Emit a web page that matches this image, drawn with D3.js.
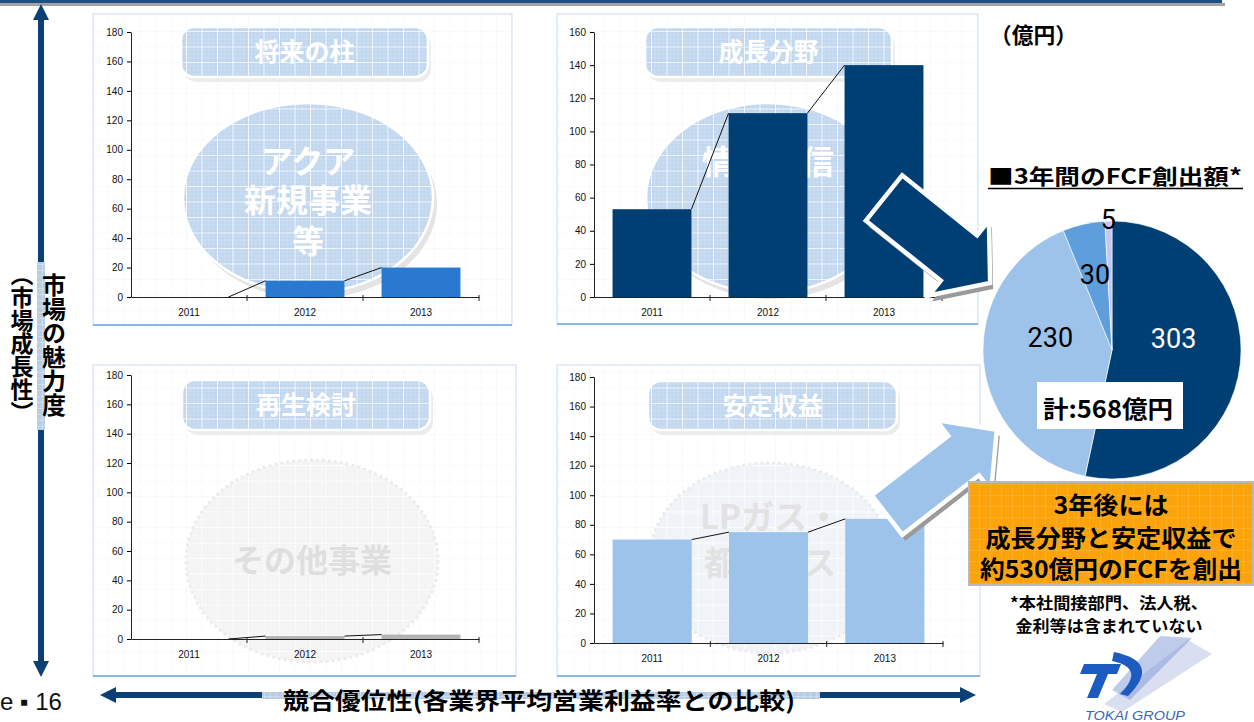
<!DOCTYPE html>
<html>
<head>
<meta charset="utf-8">
<script src="https://cdn.jsdelivr.net/npm/d3@7"></script>
<style>
  body { margin: 0; background: #fff; }
  svg { display: block; }
</style>
</head>
<body>
<div id="chart"></div>
<script>
// --- data ---
const years = ["2011", "2012", "2013"];
const futureValues = [0, 11, 20];      // 将来の柱
const growthValues = [53, 111, 140];   // 成長分野
const reviewValues = [0, 2, 3];        // 再生検討
const stableValues = [70, 75, 84];     // 安定収益
const panelTitles = ["将来の柱", "成長分野", "再生検討", "安定収益"];
const panelBusiness = [["アクア", "新規事業", "等"], ["情報通信"], ["その他事業"], ["LPガス・", "都市ガス"]];
const fcfValues = [303, 230, 30, 5];
const fcfLabels = ["303", "230", "30", "5"];
const fcfTotal = "計:568億円";

const JP = "'Noto Sans CJK JP', 'Noto Sans', sans-serif";
const W = 1254, H = 722;

const svg = d3.select("#chart").append("svg")
    .attr("width", W).attr("height", H)
    .attr("viewBox", `0 0 ${W} ${H}`);

// patterns
const defs = svg.append("defs");
function gridPattern(id, size, base, fine, main, mainW) {
    const p = defs.append("pattern").attr("id", id)
        .attr("width", size).attr("height", size)
        .attr("patternUnits", "userSpaceOnUse");
    p.append("rect").attr("width", size).attr("height", size).attr("fill", base);
    if (fine) {
        for (let i = size / 4; i < size; i += size / 4) {
            p.append("line").attr("x1", i).attr("x2", i).attr("y1", 0).attr("y2", size)
                .attr("stroke", fine).attr("stroke-width", 0.6);
            p.append("line").attr("y1", i).attr("y2", i).attr("x1", 0).attr("x2", size)
                .attr("stroke", fine).attr("stroke-width", 0.6);
        }
    }
    p.append("path").attr("d", `M0,0H${size}M0,0V${size}`)
        .attr("stroke", main).attr("stroke-width", mainW).attr("fill", "none");
}
gridPattern("gBlue", 15.5, "#c0d6ee", "#d2e2f4", "#ffffff", 1.6);
gridPattern("gPale", 15.5, "#f0f4f9", null, "#ffffff", 1.4);
gridPattern("gGrey", 15.5, "#f3f3f3", "#f8f8f8", "#ffffff", 1.4);
gridPattern("gPanel", 15.5, "#ffffff", null, "#f1f6fc", 1);
gridPattern("gOrange", 11, "#fca30c", null, "#fdb743", 1);
gridPattern("gAxis", 6, "#b8cde4", null, "#e3ecf6", 1);

svg.append("rect").attr("width", W).attr("height", H).attr("fill", "#fff");

// top rule
svg.append("rect").attr("x", 0).attr("y", 3).attr("width", 1225).attr("height", 3).attr("fill", "#a3a3a3");
svg.append("rect").attr("x", 0).attr("y", 0).attr("width", 1222).attr("height", 3).attr("fill", "#1e4f82");

const panels = [
    { values: futureValues, box: [93, 14, 419, 311], x0: 131, x1: 479, yb: 297, yt: 32, max: 180,
      color: "#2a79d1", title: [181, 27, 247, 50], ell: [308, 198, 125, 95], ellFill: "url(#gBlue)",
      lines: [161, 200, 241], txtFill: "#ffffff", fs: 32, shadow: true },
    { values: growthValues, box: [557, 14, 421, 310], x0: 594, x1: 942, yb: 297, yt: 32, max: 160,
      color: "#003f74", title: [645, 27, 247, 50], ell: [768, 198, 122, 95], ellFill: "url(#gBlue)",
      lines: [162], txtFill: "#ffffff", fs: 33, shadow: true },
    { values: reviewValues, box: [93, 365, 423, 311], x0: 131, x1: 479, yb: 639, yt: 375, max: 180,
      color: "#b3b3b3", title: [182, 380, 248, 50], ell: [312, 561, 126, 101], ellFill: "url(#gGrey)",
      lines: [560], txtFill: "#dfdfdf", fs: 32, shadow: false },
    { values: stableValues, box: [557, 365, 423, 311], x0: 594, x1: 943, yb: 643, yt: 377, max: 180,
      color: "#9dc3ea", title: [648, 381, 249, 49], ell: [770, 558, 120, 95], ellFill: "url(#gPale)",
      lines: [517, 563], txtFill: "#e2e2e2", fs: 33, shadow: false }
];

panels.forEach((p, i) => drawPanel(p, i));

function drawPanel(p, i) {
    const g = svg.append("g");
    const [bx, by, bw, bh] = p.box;
    g.append("rect").attr("x", bx).attr("y", by).attr("width", bw).attr("height", bh)
        .attr("fill", "url(#gPanel)").attr("stroke", "#d3e2f3").attr("stroke-width", 1.2);
    g.append("line").attr("x1", bx).attr("x2", bx + bw).attr("y1", by + bh).attr("y2", by + bh)
        .attr("stroke", "#8fb6e2").attr("stroke-width", 2);

    // title plate
    const [tx, ty, tw, th] = p.title;
    g.append("rect").attr("x", tx + 3).attr("y", ty + 5).attr("width", tw).attr("height", th)
        .attr("rx", 13).attr("fill", "#ececec");
    g.append("rect").attr("x", tx).attr("y", ty).attr("width", tw).attr("height", th)
        .attr("rx", 13).attr("fill", "url(#gBlue)").attr("stroke", "#fff").attr("stroke-width", 2.5);
    g.append("text").attr("x", tx + tw / 2).attr("y", ty + th / 2 + 9)
        .attr("text-anchor", "middle").attr("font-family", JP).attr("font-weight", "bold")
        .attr("font-size", 25).attr("fill", "#fff").text(panelTitles[i]);

    // business ellipse
    const [ex, ey, erx, ery] = p.ell;
    if (p.shadow) {
        g.append("ellipse").attr("cx", ex + 4).attr("cy", ey + 6).attr("rx", erx).attr("ry", ery)
            .attr("fill", "#e4e4e4");
    }
    g.append("ellipse").attr("cx", ex).attr("cy", ey).attr("rx", erx).attr("ry", ery)
        .attr("fill", p.ellFill).attr("stroke", p.shadow ? "#fff" : "#ececec")
        .attr("stroke-width", p.shadow ? 2.5 : 3).attr("stroke-dasharray", p.shadow ? null : "3 3");
    panelBusiness[i].forEach((s, k) => {
        g.append("text").attr("x", ex).attr("y", p.lines[k] + p.fs * 0.36)
            .attr("text-anchor", "middle").attr("font-family", JP).attr("font-weight", "bold")
            .attr("font-size", p.fs).attr("fill", p.txtFill).text(s);
    });

    // scales + axes
    const x = d3.scaleBand().domain(years).range([p.x0, p.x1]).paddingInner(0.32).paddingOuter(0.16);
    const y = d3.scaleLinear().domain([0, p.max]).range([p.yb, p.yt]);

    const ya = g.append("g").attr("transform", `translate(${p.x0},0)`)
        .call(d3.axisLeft(y).tickValues(d3.range(0, p.max + 1, 20)).tickSize(4).tickPadding(4).tickSizeOuter(0));
    ya.selectAll("text").attr("font-family", "'Liberation Sans', Arial, sans-serif").attr("font-size", 10).attr("fill", "#111");
    ya.select(".domain").attr("stroke", "#222");

    // bars
    g.append("g").selectAll("rect").data(p.values).join("rect")
        .attr("x", (d, k) => x(years[k]))
        .attr("y", d => y(d))
        .attr("width", x.bandwidth())
        .attr("height", d => y(0) - y(d))
        .attr("fill", p.color);

    // series lines between bars
    g.append("g").selectAll("line").data(p.values.slice(0, -1)).join("line")
        .attr("x1", (d, k) => x(years[k]) + x.bandwidth())
        .attr("y1", d => y(d))
        .attr("x2", (d, k) => x(years[k + 1]))
        .attr("y2", (d, k) => y(p.values[k + 1]))
        .attr("stroke", "#111").attr("stroke-width", 1);

    const xa = g.append("g").attr("transform", `translate(0,${p.yb})`)
        .call(d3.axisBottom(x).tickSize(0).tickPadding(12));
    xa.selectAll("text").attr("font-family", "'Liberation Sans', Arial, sans-serif").attr("font-size", 10).attr("fill", "#111");
    xa.select(".domain").attr("stroke", "#222");
    g.append("g").selectAll("line").data(d3.range(1, years.length + 1)).join("line")
        .attr("x1", k => p.x0 + k * x.step()).attr("x2", k => p.x0 + k * x.step())
        .attr("y1", p.yb - 2).attr("y2", p.yb + 4).attr("stroke", "#222");
}

// --- axis arrows of the matrix ---
const navy = "#0c4074";
function arrowHead(g, x, y, dir) {
    const s = 8, l = 16;
    const pts = {
        up: [[x, y], [x - s, y + l], [x + s, y + l]],
        down: [[x, y], [x - s, y - l], [x + s, y - l]],
        left: [[x, y], [x + l, y - s], [x + l, y + s]],
        right: [[x, y], [x - l, y - s], [x - l, y + s]]
    }[dir];
    g.append("path").attr("d", d3.line()(pts) + "Z").attr("fill", navy);
}
const ax = svg.append("g");
ax.append("line").attr("x1", 41).attr("x2", 41).attr("y1", 16).attr("y2", 664)
    .attr("stroke", navy).attr("stroke-width", 6);
arrowHead(ax, 41, 4, "up");
arrowHead(ax, 41, 677, "down");
ax.append("rect").attr("x", 37).attr("y", 262).attr("width", 8).attr("height", 168).attr("fill", "url(#gAxis)");
ax.append("text").attr("x", 54).attr("y", 345).attr("text-anchor", "middle")
    .style("writing-mode", "vertical-rl").attr("font-family", JP).attr("font-weight", "bold")
    .attr("font-size", 24).attr("fill", "#000").text("市場の魅力度");
ax.append("text").attr("x", 22).attr("y", 343).attr("text-anchor", "middle")
    .style("writing-mode", "vertical-rl").attr("font-family", JP).attr("font-weight", "bold")
    .attr("font-size", 23).attr("fill", "#000").text("（市場成長性）");

ax.append("line").attr("x1", 112).attr("x2", 962).attr("y1", 695).attr("y2", 695)
    .attr("stroke", navy).attr("stroke-width", 6);
arrowHead(ax, 100, 695, "left");
arrowHead(ax, 976, 695, "right");
ax.append("rect").attr("x", 262).attr("y", 692).attr("width", 558).attr("height", 7).attr("fill", "url(#gAxis)");
ax.append("text").attr("x", 539).attr("y", 709).attr("text-anchor", "middle")
    .attr("font-family", JP).attr("font-weight", "bold").attr("font-size", 23)
    .attr("textLength", 512).attr("lengthAdjust", "spacingAndGlyphs")
    .attr("fill", "#000").text("競合優位性(各業界平均営業利益率との比較)");

svg.append("text").attr("x", 0).attr("y", 710).attr("font-family", "'Liberation Sans', Arial, sans-serif")
    .attr("font-size", 24).attr("fill", "#111").text("e ▪ 16");

// --- right side: FCF pie ---
svg.append("text").attr("x", 990).attr("y", 43).attr("font-family", JP).attr("font-weight", "bold")
    .attr("font-size", 22).attr("textLength", 87).attr("lengthAdjust", "spacingAndGlyphs").text("（億円）");
svg.append("text").attr("x", 988).attr("y", 184).attr("font-family", JP).attr("font-weight", "bold")
    .attr("font-size", 21).attr("textLength", 254).attr("lengthAdjust", "spacingAndGlyphs").text("■3年間のFCF創出額*");
svg.append("line").attr("x1", 988).attr("x2", 1243).attr("y1", 188.5).attr("y2", 188.5)
    .attr("stroke", "#000").attr("stroke-width", 1.5);

const pieColors = ["#003f74", "#9dc3ea", "#5f9edd", "#c6c6f6"];
const labelRadius = [0.48, 0.48, 0.6, 1.0];
const labelShift = [-18, -18, 0, -2];
const R = 129, cx = 1112, cy = 350;
const pie = d3.pie().sort(null).value(d => d)(fcfValues);
const arc = d3.arc().innerRadius(0).outerRadius(R);
const pg = svg.append("g").attr("transform", `translate(${cx},${cy})`);
pg.selectAll("path").data(pie).join("path")
    .attr("d", arc).attr("fill", (d, i) => pieColors[i])
    .attr("stroke", "#fff").attr("stroke-width", 0.6);
pg.selectAll("text").data(pie).join("text")
    .attr("transform", (d, i) => {
        const c = d3.arc().innerRadius(R * labelRadius[i]).outerRadius(R * labelRadius[i]).centroid(d);
        return `translate(${c[0]},${c[1] + labelShift[i]})`;
    })
    .attr("dy", "0.36em").attr("text-anchor", "middle")
    .attr("font-family", "'Liberation Sans Narrow', 'Roboto', sans-serif")
    .attr("font-size", 27).attr("fill", (d, i) => i === 0 ? "#fff" : "#000")
    .text((d, i) => fcfLabels[i]);

svg.append("rect").attr("x", 1037).attr("y", 382).attr("width", 146).attr("height", 47).attr("fill", "#fff");
svg.append("text").attr("x", 1043).attr("y", 418).attr("font-family", JP).attr("font-weight", "bold")
    .attr("font-size", 24).attr("textLength", 130).attr("lengthAdjust", "spacingAndGlyphs").text(fcfTotal);

// --- block arrows into the pie ---
function blockArrow(bx, by, angle, bodyLen, bodyHalf, headLen, headHalf, fill) {
    const pts = [[0, -bodyHalf], [bodyLen, -bodyHalf], [bodyLen, -headHalf], [bodyLen + headLen, 0],
                 [bodyLen, headHalf], [bodyLen, bodyHalf], [0, bodyHalf]];
    const d = d3.line()(pts) + "Z";
    const g = svg.append("g");
    g.append("path").attr("d", d).attr("fill", "#9a9a9a")
        .attr("transform", `translate(${bx + 3},${by + 6}) rotate(${angle})`);
    g.append("path").attr("d", d).attr("fill", fill).attr("stroke", "#fff").attr("stroke-width", 4.5)
        .attr("stroke-linejoin", "miter")
        .attr("transform", `translate(${bx},${by}) rotate(${angle})`);
}
blockArrow(884, 198, 38.7, 96, 29, 40, 48, "#003f74");
blockArrow(887, 515, -37.8, 97, 25, 42, 45, "#9dc3ea");

// --- callout ---
svg.append("rect").attr("x", 969).attr("y", 482).attr("width", 284).attr("height", 103)
    .attr("fill", "url(#gOrange)").attr("stroke", "#b9b9b9").attr("stroke-width", 2);
const callout = [["3年後には", 514, 115], ["成長分野と安定収益で", 547, 251], ["約530億円のFCFを創出", 578, 262]];
callout.forEach(([s, yy, w]) => {
    svg.append("text").attr("x", 1111).attr("y", yy).attr("text-anchor", "middle")
        .attr("font-family", JP).attr("font-weight", "bold").attr("font-size", 24)
        .attr("textLength", w).attr("lengthAdjust", "spacingAndGlyphs").text(s);
});
const notes = [["*本社間接部門、法人税、", 609, 198], ["金利等は含まれていない", 632, 187]];
notes.forEach(([s, yy, w]) => {
    svg.append("text").attr("x", 1109).attr("y", yy).attr("text-anchor", "middle")
        .attr("font-family", JP).attr("font-weight", "bold").attr("font-size", 16)
        .attr("textLength", w).attr("lengthAdjust", "spacingAndGlyphs").text(s);
});

// --- TOKAI GROUP logo ---
const logo = svg.append("g");
logo.append("path").attr("d", "M1104,704 L1188,640 L1212,654 L1122,712 Z").attr("fill", "#b4c0e4").attr("opacity", 0.5);
logo.append("path").attr("d", "M1112,690 L1160,636 L1192,638 L1130,700 Z").attr("fill", "#8097d6").attr("opacity", 0.5);
logo.append("path").attr("d", "M1084,664 L1121,664 L1117,674 L1080,674 Z").attr("fill", "#1c5cc0");
logo.append("path").attr("d", "M1097,674 L1108,674 L1098,698 L1087,698 Z").attr("fill", "#1c5cc0");
logo.append("path").attr("d", "M1114,652 Q1162,662 1128,696 L1120,694 Q1146,668 1112,661 Z").attr("fill", "#1c5cc0");
logo.append("text").attr("x", 1085).attr("y", 720).attr("font-family", "'Liberation Sans', Arial, sans-serif")
    .attr("font-style", "italic").attr("font-size", 12).attr("fill", "#3b66b5")
    .attr("textLength", 100).attr("lengthAdjust", "spacingAndGlyphs").text("TOKAI GROUP");
</script>
</body>
</html>
